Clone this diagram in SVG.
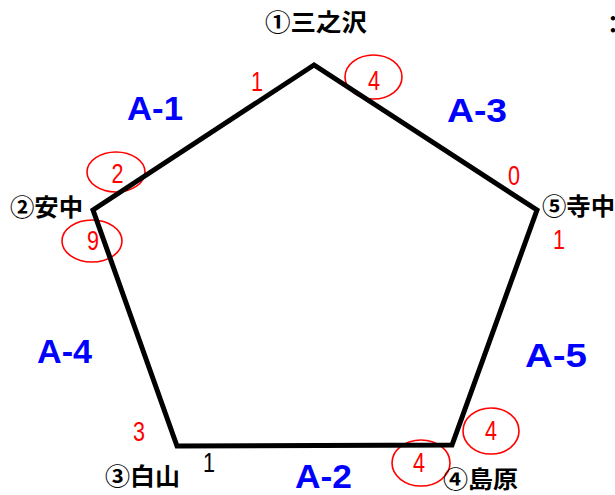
<svg xmlns="http://www.w3.org/2000/svg" width="615" height="495" viewBox="0 0 615 495">
<style>
.bg{fill:#fff}
.ring{fill:none;stroke:#f00;stroke-width:1.6}
.edge{fill:none;stroke:#000;stroke-width:5;stroke-linejoin:miter}
.num{font-family:"Liberation Sans","DejaVu Sans",sans-serif;font-size:28px;fill:#f00;text-anchor:middle}
.numk{font-family:"Liberation Sans","DejaVu Sans",sans-serif;font-size:28px;fill:#000;text-anchor:middle}
.sec{font-family:"Liberation Sans","DejaVu Sans",sans-serif;font-size:33px;font-weight:bold;fill:#00f}
.stn{font-family:"Noto Sans CJK JP","Noto Sans CJK SC",sans-serif;font-size:24px;font-weight:bold;fill:#000}
</style>
<rect class="bg" width="615" height="495"/>
<g id="rings">
<ellipse class="ring" cx="373.5" cy="77" rx="28.5" ry="22"/>
<ellipse class="ring" cx="116" cy="172" rx="29" ry="20"/>
<ellipse class="ring" cx="92" cy="241" rx="30" ry="21"/>
<ellipse class="ring" cx="491" cy="431" rx="28" ry="23"/>
<ellipse class="ring" cx="421" cy="463" rx="29" ry="23"/>
</g>
<g id="connectors">
<polygon class="edge" points="314,65 93,210 177,446 452,445 537,210"/>
</g>
<g id="n1">
<text class="stn" x="265" y="31" textLength="102" lengthAdjust="spacingAndGlyphs">①三之沢</text>
<text class="num" x="257" y="91" textLength="12" lengthAdjust="spacingAndGlyphs">1</text>
<text class="num" x="374" y="90" textLength="12" lengthAdjust="spacingAndGlyphs">4</text>
</g>
<g id="n2">
<text class="stn" x="10" y="216" textLength="73" lengthAdjust="spacingAndGlyphs">②安中</text>
<text class="num" x="117.5" y="183" textLength="12" lengthAdjust="spacingAndGlyphs">2</text>
<text class="num" x="93" y="250" textLength="12" lengthAdjust="spacingAndGlyphs">9</text>
</g>
<g id="n3">
<text class="stn" x="105" y="485" textLength="75" lengthAdjust="spacingAndGlyphs">③白山</text>
<text class="num" x="139" y="441" textLength="12" lengthAdjust="spacingAndGlyphs">3</text>
<text class="numk" x="209" y="472" textLength="12" lengthAdjust="spacingAndGlyphs">1</text>
</g>
<g id="n4">
<text class="stn" x="443" y="488" textLength="75" lengthAdjust="spacingAndGlyphs">④島原</text>
<text class="num" x="491" y="440" textLength="12" lengthAdjust="spacingAndGlyphs">4</text>
<text class="num" x="419" y="472" textLength="12" lengthAdjust="spacingAndGlyphs">4</text>
</g>
<g id="n5">
<text class="stn" x="542" y="215" textLength="73" lengthAdjust="spacingAndGlyphs">⑤寺中</text>
<text class="num" x="514" y="185" textLength="12" lengthAdjust="spacingAndGlyphs">0</text>
<text class="num" x="559" y="249" textLength="12" lengthAdjust="spacingAndGlyphs">1</text>
</g>
<g id="sections">
<text class="sec" x="127" y="120" textLength="56" lengthAdjust="spacingAndGlyphs">A-1</text>
<text class="sec" x="447" y="122" textLength="60" lengthAdjust="spacingAndGlyphs">A-3</text>
<text class="sec" x="37" y="363" textLength="55" lengthAdjust="spacingAndGlyphs">A-4</text>
<text class="sec" x="525" y="367" textLength="62" lengthAdjust="spacingAndGlyphs">A-5</text>
<text class="sec" x="295" y="488" textLength="57" lengthAdjust="spacingAndGlyphs">A-2</text>
</g>
<g id="edge-cut">
<text class="stn" x="601" y="33">：</text>
</g>
</svg>
